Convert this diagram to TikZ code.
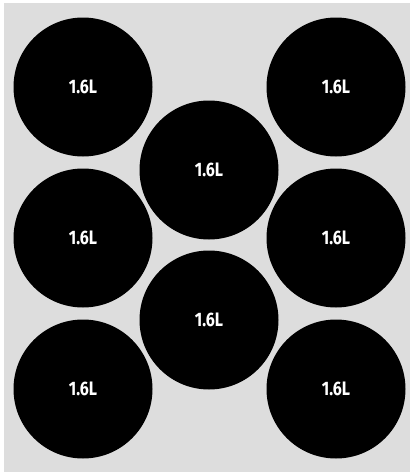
\documentclass[tikz,border=0pt]{standalone}
\usepackage{fontspec}
\newfontfamily\etiqfont[FakeStretch=0.82]{Fira Sans}
\usepackage{xcolor}
\definecolor{fondo}{HTML}{DDDDDD}

\begin{document}
\begin{tikzpicture}[x=1pt, y=-1pt,
      c/.style={circle, fill=black, inner sep=0pt, minimum size=139pt,
                text=white, font=\etiqfont\bfseries\fontsize{19.5}{19.5}\selectfont}]

    % fondo gris
    \useasboundingbox (0,0) rectangle (410,472);
    \fill[fondo] (4,3) rectangle (410,472);

    % columna izquierda
    \node[c] (iz1) at (83,87)  {1.6L};
    \node[c] (iz2) at (83,238) {1.6L};
    \node[c] (iz3) at (83,389) {1.6L};

    % columna central
    \node[c] (ce1) at (209,170) {1.6L};
    \node[c] (ce2) at (209,320) {1.6L};

    % columna derecha
    \node[c] (de1) at (336,87)  {1.6L};
    \node[c] (de2) at (336,238) {1.6L};
    \node[c] (de3) at (336,389) {1.6L};
  \end{tikzpicture}
\end{document}
